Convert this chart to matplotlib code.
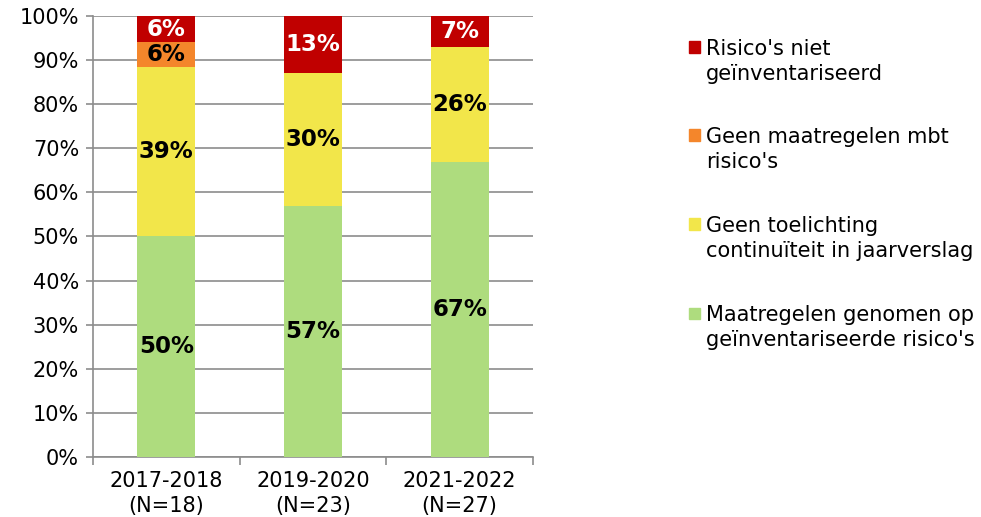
import matplotlib
matplotlib.use("Agg")
import matplotlib.pyplot as plt
from matplotlib.patches import Rectangle
import numpy as np

categories = ["2017-2018\n(N=18)", "2019-2020\n(N=23)", "2021-2022\n(N=27)"]
series_names = ["Maatregelen genomen op\ngeïnventariseerde risico's",
                "Geen toelichting\ncontinuïteit in jaarverslag",
                "Geen maatregelen mbt\nrisico's",
                "Risico's niet\ngeïnventariseerd"]
green = [50, 57, 67]
yellow = [38.5, 30, 26]
orange = [5.5, 0, 0]
red = [6, 13, 7]
bar_labels = [["50%", "57%", "67%"], ["39%", "30%", "26%"], ["6%", "", ""], ["6%", "13%", "7%"]]
colors = ["#AEDC7E", "#F2E64A", "#F4862B", "#C00000"]
label_colors = ["black", "black", "black", "white"]

plt.rcParams['font.family'] = ['DejaVu Sans']
fig = plt.figure(figsize=(9.81, 5.17), dpi=100)
ax = fig.add_axes([93/981, 60/517, 440/981, 441/517])

x = np.arange(len(categories))
bottom = np.zeros(len(categories))
for vals, col, lc, labs in zip([green, yellow, orange, red], colors, label_colors, bar_labels):
    vals = np.array(vals, dtype=float)
    ax.bar(x, vals, bottom=bottom, width=0.395, color=col, zorder=3)
    for xi, v, bo, lab in zip(x, vals, bottom, labs):
        if v > 0 and lab:
            ax.text(xi, bo + v/2, lab, ha='center', va='center',
                    fontsize=16.5, fontweight='bold', color=lc, zorder=4)
    bottom += vals

ax.set_xlim(-0.5, 2.5)
ax.set_ylim(0, 100)
ax.set_yticks(np.arange(0, 101, 10))
ax.set_yticklabels([f"{v}%" for v in range(0, 101, 10)], fontsize=15)
ax.yaxis.grid(True, color='#8C8C8C', linewidth=1.2, zorder=0)
ax.set_xticks(x)
ax.set_xticklabels(categories, fontsize=15, linespacing=1.35)
ax.set_xticks([-0.5, 0.5, 1.5, 2.5], minor=True)
ax.tick_params(axis='x', which='major', length=0, pad=10)
ax.tick_params(axis='x', which='minor', length=6, color='#8C8C8C', width=1.2)
ax.tick_params(axis='y', length=5, color='#8C8C8C', width=1.2, pad=5)
for s in ['top', 'right']:
    ax.spines[s].set_visible(False)
for s in ['left', 'bottom']:
    ax.spines[s].set_color('#8C8C8C')
    ax.spines[s].set_linewidth(1.2)

# legend (drawn manually to match layout)
W, H = 981, 517
leg_order = [3, 2, 1, 0]
first_line_y = [47, 135, 224, 313]
for idx, y0 in zip(leg_order, first_line_y):
    fig.patches.append(Rectangle((689/W, 1 - (y0 + 5.5)/H), 11/W, 11/H,
                                 transform=fig.transFigure, color=colors[idx]))
    for k, line in enumerate(series_names[idx].split("\n")):
        fig.text(706/W, 1 - (y0 + 25*k)/H, line, fontsize=15,
                 ha='left', va='center_baseline', color='black')

fig.savefig("out.png", dpi=100)
